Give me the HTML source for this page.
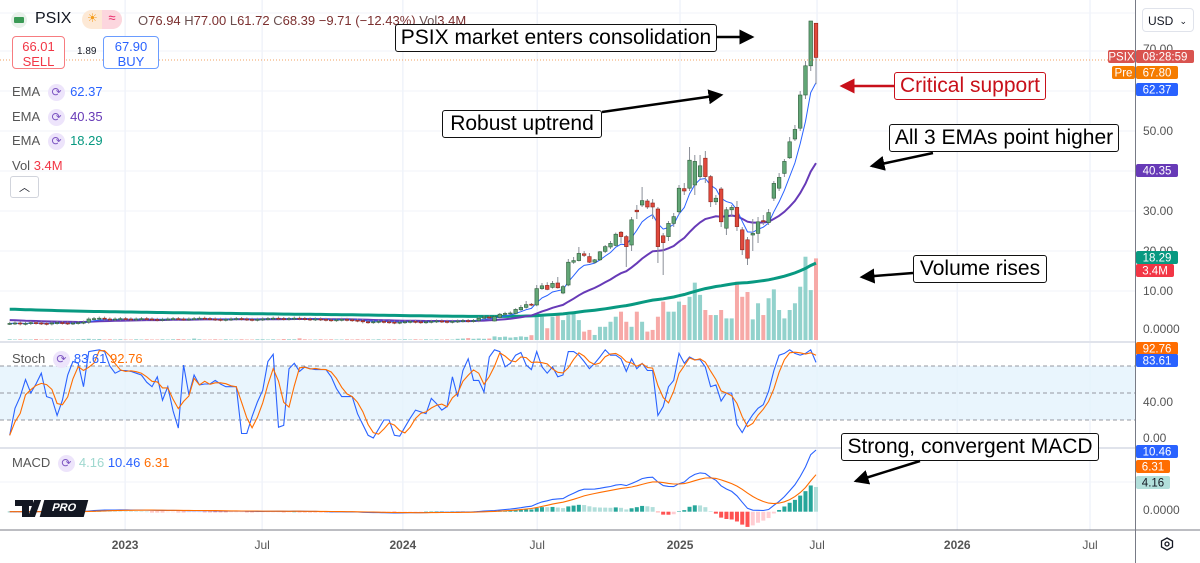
<!DOCTYPE html>
<html><head><meta charset="utf-8">
<style>
html,body{margin:0;padding:0;background:#fff;}
body{width:1200px;height:563px;overflow:hidden;position:relative;font-family:"Liberation Sans",sans-serif;}
svg{position:absolute;left:0;top:0;}
.t{font-family:"Liberation Sans",sans-serif;}
</style></head>
<body>
<svg id="chart" width="1200" height="563" viewBox="0 0 1200 563">
<g id="grid"></g>
<rect x="0" y="366" width="1135" height="54" fill="#e3f2fd" opacity="0.8"/>
<g stroke="#9598a1" stroke-dasharray="4,3" stroke-width="1">
<line x1="0" y1="366" x2="1135" y2="366"/><line x1="0" y1="393" x2="1135" y2="393"/><line x1="0" y1="420" x2="1135" y2="420"/>
</g>
<line x1="0" y1="342" x2="1135" y2="342" stroke="#e0e3eb" stroke-width="2"/>
<line x1="0" y1="448" x2="1135" y2="448" stroke="#e0e3eb" stroke-width="2"/>
<line x1="0" y1="530" x2="1200" y2="530" stroke="#787b86" stroke-width="1"/>
<line x1="1135.5" y1="0" x2="1135.5" y2="563" stroke="#787b86" stroke-width="1"/>
<g id="vol"></g>
<g id="ema"></g>
<g id="candles"></g>
<g id="stoch"></g>
<g id="macd"></g>
<line x1="0" y1="60" x2="1135" y2="60" stroke="#f0a060" stroke-width="1" stroke-dasharray="1,2"/>
<g id="axes"></g>
</svg>

<div style="position:absolute;left:11px;top:12px;width:16px;height:16px;border-radius:50%;background:#e8f1ea;"><div style="position:absolute;left:3px;top:5px;width:10px;height:6px;background:#3a9a55;border-radius:1px"></div></div>
<div class="t" style="position:absolute;left:35px;top:10px;font-size:16px;color:#131722">PSIX</div>
<div style="position:absolute;left:82px;top:10px;width:40px;height:19px;border-radius:10px;background:#fde9d6"><span style="position:absolute;left:5px;top:1px;font-size:12px;color:#f59c1a">☀</span><span style="position:absolute;left:20px;top:0;width:20px;height:19px;border-radius:0 10px 10px 0;background:#fcd6de;color:#e91e63;font-size:13px;text-align:center">≈</span></div>
<div class="t" style="position:absolute;left:138px;top:13px;font-size:13px;color:#7b2f2f;white-space:nowrap"><span style="color:#6a5050">O</span>76.94 <span style="color:#6a5050">H</span>77.00 <span style="color:#6a5050">L</span>61.72 <span style="color:#6a5050">C</span>68.39 −9.71 (−12.43%) <span style="color:#6a5050">Vol</span>3.4M</div>
<div class="t" style="position:absolute;left:12px;top:36px;width:53px;height:33px;border:1px solid #f77c80;border-radius:4px;background:#fff;text-align:center;color:#f23645;font-size:13px;line-height:15px;padding-top:2px;box-sizing:border-box">66.01<br>SELL</div>
<div class="t" style="position:absolute;left:77px;top:46px;font-size:10px;color:#131722">1.89</div>
<div class="t" style="position:absolute;left:103px;top:36px;width:56px;height:33px;border:1px solid #6a9cff;border-radius:4px;background:#fff;text-align:center;color:#2962ff;font-size:13px;line-height:15px;padding-top:2px;box-sizing:border-box">67.90<br>BUY</div>
<div class="t" style="position:absolute;left:12px;top:80px;font-size:13px;color:#555;line-height:24.5px">
EMA <span style="display:inline-block;width:17px;height:17px;border-radius:50%;background:#ede4fb;color:#7e57c2;text-align:center;font-size:12px;line-height:17px;margin:0 5px">⟳</span><span style="color:#2962ff">62.37</span><br>
EMA <span style="display:inline-block;width:17px;height:17px;border-radius:50%;background:#ede4fb;color:#7e57c2;text-align:center;font-size:12px;line-height:17px;margin:0 5px">⟳</span><span style="color:#673ab7">40.35</span><br>
EMA <span style="display:inline-block;width:17px;height:17px;border-radius:50%;background:#ede4fb;color:#7e57c2;text-align:center;font-size:12px;line-height:17px;margin:0 5px">⟳</span><span style="color:#089981">18.29</span><br>
Vol <span style="color:#f23645">3.4M</span></div>
<div style="position:absolute;left:10px;top:176px;width:27px;height:20px;border:1px solid #d1d4dc;border-radius:3px;background:#fff;text-align:center;font-size:11px;line-height:22px;color:#131722">︿</div>
<div class="t" style="position:absolute;left:12px;top:351px;font-size:13px;color:#555;white-space:nowrap">Stoch <span style="display:inline-block;width:17px;height:17px;border-radius:50%;background:#ede4fb;color:#7e57c2;text-align:center;font-size:12px;line-height:17px;margin:0 4px">⟳</span><span style="color:#2962ff">83.61</span> <span style="color:#ff6d00">92.76</span></div>
<div class="t" style="position:absolute;left:12px;top:455px;font-size:13px;color:#555;white-space:nowrap">MACD <span style="display:inline-block;width:17px;height:17px;border-radius:50%;background:#ede4fb;color:#7e57c2;text-align:center;font-size:12px;line-height:17px;margin:0 4px">⟳</span><span style="color:#9fd8cf">4.16</span> <span style="color:#2962ff">10.46</span> <span style="color:#ff6d00">6.31</span></div>
<div style="position:absolute;left:15px;top:500px;width:72px;height:17px">
<div style="position:absolute;left:0;top:0;width:18px;height:6px;background:#131722"></div><div style="position:absolute;left:7px;top:0;width:7px;height:17px;background:#131722"></div><div style="position:absolute;left:16px;top:0;width:7px;height:17px;background:#131722;transform:skewX(-20deg)"></div>
<div class="t" style="position:absolute;left:27px;top:0;width:44px;height:17px;background:#131722;color:#fff;font-size:11px;font-weight:bold;line-height:17px;text-align:center;transform:skewX(-15deg)">PRO</div></div>
<div class="t" style="position:absolute;left:1142px;top:8px;width:52px;height:24px;border:1px solid #e0e3eb;border-radius:4px;font-size:12px;line-height:24px;color:#131722;box-sizing:border-box;padding-left:5px">USD <span style="float:right;margin-right:6px;font-size:9px">⌄</span></div>
<div style="position:absolute;left:1160px;top:537px;width:14px;height:14px;"><svg width="14" height="14"><polygon points="7,1 12.5,4 12.5,10 7,13 1.5,10 1.5,4" fill="none" stroke="#131722" stroke-width="1.3"/><circle cx="7" cy="7" r="2" fill="none" stroke="#131722" stroke-width="1.3"/></svg></div>

<!-- annotations -->
<div class="t" style="position:absolute;left:395px;top:24px;width:322px;height:28px;border:1.5px solid #111;border-radius:3px;background:#fff;box-sizing:border-box;font-size:21px;line-height:25px;text-align:center;color:#000">PSIX market enters consolidation</div>
<div class="t" style="position:absolute;left:442px;top:110px;width:160px;height:28px;border:1.5px solid #111;border-radius:3px;background:#fff;box-sizing:border-box;font-size:21px;line-height:25px;text-align:center;color:#000">Robust uptrend</div>
<div class="t" style="position:absolute;left:894px;top:72px;width:152px;height:28px;border:1.5px solid #c8101a;border-radius:3px;background:#fff;box-sizing:border-box;font-size:21px;line-height:25px;text-align:center;color:#c8101a">Critical support</div>
<div class="t" style="position:absolute;left:889px;top:124px;width:230px;height:28px;border:1.5px solid #111;border-radius:3px;background:#fff;box-sizing:border-box;font-size:21px;line-height:25px;text-align:center;color:#000">All 3 EMAs point higher</div>
<div class="t" style="position:absolute;left:913px;top:255px;width:134px;height:28px;border:1.5px solid #111;border-radius:3px;background:#fff;box-sizing:border-box;font-size:21px;line-height:25px;text-align:center;color:#000">Volume rises</div>
<div class="t" style="position:absolute;left:841px;top:433px;width:258px;height:28px;border:1.5px solid #111;border-radius:3px;background:#fff;box-sizing:border-box;font-size:21px;line-height:25px;text-align:center;color:#000">Strong, convergent MACD</div>
<svg width="1200" height="563" style="pointer-events:none">
<defs><marker id="ah" markerWidth="6" markerHeight="6" refX="5" refY="3" orient="auto"><polygon points="0,0 6,3 0,6" fill="#000"/></marker>
<marker id="ahr" markerWidth="6" markerHeight="6" refX="5" refY="3" orient="auto"><polygon points="0,0 6,3 0,6" fill="#c8101a"/></marker></defs>
<line x1="717" y1="37" x2="752" y2="37" stroke="#000" stroke-width="2.5" marker-end="url(#ah)"/>
<line x1="602" y1="112" x2="721" y2="95" stroke="#000" stroke-width="2.5" marker-end="url(#ah)"/>
<line x1="894" y1="86" x2="842" y2="86" stroke="#c8101a" stroke-width="2.5" marker-end="url(#ahr)"/>
<line x1="933" y1="153" x2="872" y2="166" stroke="#000" stroke-width="2.5" marker-end="url(#ah)"/>
<line x1="913" y1="273" x2="862" y2="277" stroke="#000" stroke-width="2.5" marker-end="url(#ah)"/>
<line x1="920" y1="461" x2="856" y2="481" stroke="#000" stroke-width="2.5" marker-end="url(#ah)"/>
</svg>

<script>
// ---- data ----
const flatCloses = [1.9,2.0,1.8,1.9,2.1,2.0,1.9,1.8,2.0,2.1,2.0,1.9,2.0,2.1,2.2,
3.0,3.1,3.2,3.0,2.9,3.0,3.1,3.0,2.9,3.0,3.1,3.0,2.9,2.8,2.9,3.0,
3.1,3.0,2.9,3.0,3.1,3.2,3.1,3.0,2.9,2.8,2.9,3.0,3.1,3.0,2.9,2.8,2.9,3.0,3.1,3.2,3.1,3.0,3.1,3.2,3.1,3.0,2.9,3.0,2.9,2.8,2.7,2.8,2.9,2.8,2.7,2.6,
2.3,2.2,2.3,2.4,2.3,2.2,2.1,2.2,2.3,2.4,2.3,2.2,2.3,2.4,2.5,2.4,2.3,2.4,2.5,2.6,2.5,2.6,
3.2,3.5,3.4];
const actOpen  = [2.5,3.4,4.2,4.4,4.4,5.3,5.9,6.7,6.5,10.6,11.4,10.9,12.0,9.5,11.5,17.2,17.6,19.3,18.6,17.2,17.8,19.9,21.0,21.4,24.7,23.6,21.5,30.2,31.5,32.5,32.0,30.5,23.8,23.6,26.9,29.8,35.6,35.7,36.5,38.6,43.2,38.6,32.3,35.5,25.7,30.3,30.9,25.3,22.8,24.0,24.4,27.6,27.1,33.2,35.7,39.4,43.3,48.0,50.7,59.0,66.3,76.94];
const actHigh  = [3.8,4.5,4.8,4.9,5.7,6.5,7.5,7.0,11.5,12.0,12.2,12.5,13.5,11.5,18.0,18.5,21.0,20.0,19.5,18.0,20.0,21.5,22.5,24.6,25.0,24.0,28.5,31.5,36.0,33.0,33.0,31.0,24.5,27.5,29.5,36.5,37.0,46.0,44.0,44.0,45.0,39.0,34.0,36.0,31.0,31.5,32.5,26.0,23.5,28.0,28.5,29.0,30.5,37.5,39.5,43.0,48.5,51.5,60.0,67.5,77.0,77.0];
const actLow   = [2.4,3.2,4.0,4.1,4.2,5.0,5.6,6.2,6.2,10.3,10.2,10.6,10.6,9.2,11.2,16.8,17.4,18.5,17.0,16.8,17.5,19.5,20.5,21.2,22.0,16.0,20.0,28.0,31.0,30.5,28.0,17.0,14.0,22.5,26.0,29.0,34.0,35.0,34.0,38.0,37.0,31.0,31.5,26.0,24.0,28.5,25.0,19.0,16.5,20.0,22.0,26.5,26.5,32.5,35.0,38.5,43.0,47.5,50.0,58.0,65.0,61.72];
const actClose = [3.6,4.2,4.4,4.5,5.4,5.9,6.6,6.5,10.6,11.3,10.4,11.9,10.8,11.1,17.2,17.6,19.4,18.9,17.2,17.8,19.8,21.1,21.9,24.2,23.6,21.1,27.8,29.8,32.6,31.0,31.0,21.1,22.1,26.9,28.6,35.7,35.0,42.7,42.4,41.3,38.6,32.3,33.2,27.3,30.3,30.9,26.1,20.3,18.2,24.4,27.3,27.3,29.6,36.9,38.4,42.4,47.3,50.4,59.0,66.3,77.5,68.39];
const flatVolume = [0.03,0.02,0.03,0.02,0.02,0.04,0.02,0.03,0.02,0.02,0.03,0.02,0.02,0.03,0.04,0.05,0.03,0.04,0.02,0.03,0.02,0.03,0.02,0.02,0.03,0.02,0.03,0.02,0.02,0.03,0.02,0.03,0.04,0.03,0.02,0.06,0.03,0.02,0.02,0.03,0.02,0.03,0.02,0.02,0.03,0.02,0.02,0.03,0.03,0.02,0.03,0.02,0.04,0.03,0.03,0.07,0.03,0.02,0.02,0.03,0.02,0.03,0.02,0.02,0.03,0.02,0.03,0.02,0.03,0.02,0.03,0.02,0.03,0.03,0.02,0.03,0.02,0.03,0.02,0.03,0.02,0.03,0.02,0.03,0.02,0.05,0.06,0.08,0.05,0.06,0.05,0.06];
const actVolume = [0.15,0.12,0.14,0.10,0.12,0.15,0.13,0.20,1.11,0.97,0.49,0.97,1.04,0.83,1.04,1.18,0.83,0.35,0.42,0.21,0.55,0.55,0.76,0.97,1.18,0.76,0.55,1.18,0.76,0.35,0.42,0.97,1.6,1.18,1.18,1.6,1.46,1.8,2.39,1.88,1.25,1.04,1.04,1.25,0.9,0.9,2.43,1.8,2.0,0.86,1.53,1.04,1.74,2.11,1.25,0.9,1.25,1.53,2.22,3.47,2.08,3.4];
const stochK = [3,33,46,65,50,60,72,46,44,25,42,70,85,83,57,96,97,98,96,80,72,75,75,74,72,70,62,57,68,42,57,30,11,81,48,70,59,60,60,64,60,57,57,57,5,5,24,40,53,85,93,12,14,77,83,74,79,77,76,76,76,68,55,46,46,46,27,15,3,0,10,20,20,3,2,12,22,31,29,27,44,38,31,35,68,46,75,88,64,64,51,90,98,96,79,83,92,95,81,76,96,79,72,79,68,70,96,96,92,85,77,83,90,98,92,92,88,74,88,77,83,75,75,25,35,57,64,94,83,90,87,87,79,57,59,41,50,50,15,6,17,26,33,37,52,75,92,94,98,94,92,94,98,84];
const timeLabels = ["2023","Jul","2024","Jul","2025","Jul","2026","Jul"];
const timeLabelBold = [true,false,true,false,true,false,true,false];
const timeLabelIndex = [21.9,47.9,74.6,100.1,127.2,153.2,179.8,205.0];
const priceTicks = [50,30,20,10];

// ---- build ----
const NS="http://www.w3.org/2000/svg";
function mk(tag,attrs,parent){const e=document.createElementNS(NS,tag);for(const k in attrs)e.setAttribute(k,attrs[k]);parent.appendChild(e);return e;}
const opens=[],highs=[],lows=[],closes=[],volumes=[];
let prev=flatCloses[0];
flatCloses.forEach((c)=>{opens.push(prev);closes.push(c);highs.push(Math.max(prev,c)+0.4);lows.push(Math.min(prev,c)-0.4);prev=c;});
actClose.forEach((c,i)=>{opens.push(actOpen[i]);closes.push(c);highs.push(actHigh[i]);lows.push(actLow[i]);});
flatVolume.forEach(v=>volumes.push(v));actVolume.forEach(v=>volumes.push(v));
const N=closes.length;
const xOf=i=>9.7+5.27*i;
const yP=p=>331-4*p;
const yV=v=>340-24*v;
const yS=s=>438-0.9*s;
const yM=m=>511.7-5.9*m;

// grid
const grid=document.getElementById('grid');
[13,51,91,131,171,211,251,291].forEach(y=>{const l=mk('line',{x1:0,x2:1135,y1:y,y2:y,stroke:'#f0f3fa','stroke-width':1},grid);});
[482].forEach(y=>{const l=mk('line',{x1:0,x2:1135,y1:y,y2:y,stroke:'#f0f3fa','stroke-width':1},grid);});
timeLabelIndex.forEach(i=>{const x=xOf(i);const l=mk('line',{x1:x,x2:x,y1:0,y2:530,stroke:'#f0f3fa','stroke-width':1.5},grid);});

function ema(arr,period,seed){const a=2/(period+1);let v=seed;return arr.map(c=>{v=v+a*(c-v);return v;});}
function path(vals,fy,start){let d='';vals.forEach((v,i)=>{if(i<(start||0))return;d+=(d?'L':'M')+xOf(i).toFixed(1)+','+fy(v).toFixed(1);});return d;}

// volume
const vol=document.getElementById('vol');
volumes.forEach((v,i)=>{const up=closes[i]>=opens[i];const r=mk('rect',{x:xOf(i)-2,y:yV(v),width:4,height:340-yV(v),fill:up?'#92d2cc':'#f7a9a7'},vol);

});

// EMAs
const emaG=document.getElementById('ema');
const e1=ema(closes,6,1.9),e2=ema(closes,26,2.8),e3=ema(closes,170,5.5);
let p3=mk('path',{d:path(e3,yP),fill:'none',stroke:'#089981','stroke-width':3},emaG);
let p2=mk('path',{d:path(e2,yP),fill:'none',stroke:'#673ab7','stroke-width':2},emaG);
let p1=mk('path',{d:path(e1,yP),fill:'none',stroke:'#2962ff','stroke-width':1},emaG);

// candles
const cg=document.getElementById('candles');
for(let i=0;i<N;i++){const up=closes[i]>=opens[i];const x=xOf(i);
const w=mk('line',{x1:x,x2:x,y1:yP(highs[i]),y2:yP(lows[i]),stroke:'#8a8f98','stroke-width':1},cg);


const top=yP(Math.max(opens[i],closes[i])),bot=yP(Math.min(opens[i],closes[i]));
const b=mk('rect',{x:x-1.8,y:top,width:3.6,height:Math.max(1,bot-top),fill:up?'#62a676':'#e0493c',stroke:up?'#2e5d3b':'#8d231a','stroke-width':0.6},cg);

}

// stochastic
const sg=document.getElementById('stoch');
const stochD=stochK.map((v,i)=>{const a=stochK.slice(Math.max(0,i-2),i+1);return a.reduce((s,x)=>s+x,0)/a.length;});
let sk=mk('path',{d:path(stochK,yS),fill:'none',stroke:'#2962ff','stroke-width':1.1},sg);
let sd=mk('path',{d:path(stochD,yS),fill:'none',stroke:'#ff6d00','stroke-width':1.1},sg);

// MACD
const mg=document.getElementById('macd');
const f12=ema(closes,12,closes[0]),s26=ema(closes,26,closes[0]);
const macdLine=f12.map((v,i)=>v-s26[i]);
const signal=ema(macdLine,9,0);
const hist=macdLine.map((v,i)=>v-signal[i]);
hist.forEach((h,i)=>{const prevH=i?hist[i-1]:0;let col;
if(h>=0)col=h>=prevH?'#26a69a':'#b2dfdb';else col=h<prevH?'#ff5252':'#ffcdd2';
const y0=yM(0),y1=yM(h);
const r=mk('rect',{x:xOf(i)-2,y:Math.min(y0,y1),width:4,height:Math.max(0.5,Math.abs(y1-y0)),fill:col},mg);

});
let ml=mk('path',{d:path(macdLine,yM),fill:'none',stroke:'#2962ff','stroke-width':1.1},mg);
let sl=mk('path',{d:path(signal,yM),fill:'none',stroke:'#ff6d00','stroke-width':1.1},mg);

// axes
const ax=document.getElementById('axes');
timeLabels.forEach((t,k)=>{const tx=mk('text',{x:xOf(timeLabelIndex[k]),y:549,'text-anchor':'middle','font-size':12,'font-weight':timeLabelBold[k]?'bold':'normal',fill:'#555','font-family':'Liberation Sans, sans-serif'},ax);tx.textContent=t;

});
priceTicks.forEach(p=>{const tx=mk('text',{x:1143,y:yP(p)+4,'font-size':12,fill:'#555','font-family':'Liberation Sans, sans-serif'},ax);tx.textContent=p.toFixed(2);

});
const otherTicks=[["70.00",53],["0.0000",333],["40.00",406],["0.00",442],["0.0000",514]];
otherTicks.forEach(o=>{const tx=mk('text',{x:1143,y:o[1],'font-size':12,fill:'#555','font-family':'Liberation Sans, sans-serif'},ax);tx.textContent=o[0];

});
const tags=[["PSIX",1108,50,27,'#d9534f','#fff'],["08:28:59",1136,50,58,'#d9534f','#fff'],["Pre",1112,66,23,'#f57c00','#fff'],["67.80",1136,66,42,'#f57c00','#fff'],["62.37",1136,83,42,'#2962ff','#fff'],["40.35",1136,164,42,'#673ab7','#fff'],["18.29",1136,251,42,'#089981','#fff'],["3.4M",1136,264,38,'#f23645','#fff'],["92.76",1136,342,42,'#ff6d00','#fff'],["83.61",1136,354,42,'#2962ff','#fff'],["10.46",1136,445,42,'#2962ff','#fff'],["6.31",1136,460,34,'#ff6d00','#fff'],["4.16",1136,476,34,'#b2dfdb','#131722']];
tags.forEach(t=>{const g=mk('g',{},ax);


mk('rect',{x:t[1],y:t[2],width:t[3],height:13,rx:2,fill:t[4]},g);
const tx=mk('text',{x:t[1]+t[3]/2,y:t[2]+10.5,'text-anchor':'middle','font-size':11.5,fill:t[5],'font-family':'Liberation Sans, sans-serif'},g);tx.textContent=t[0];});
</script>
</body></html>
